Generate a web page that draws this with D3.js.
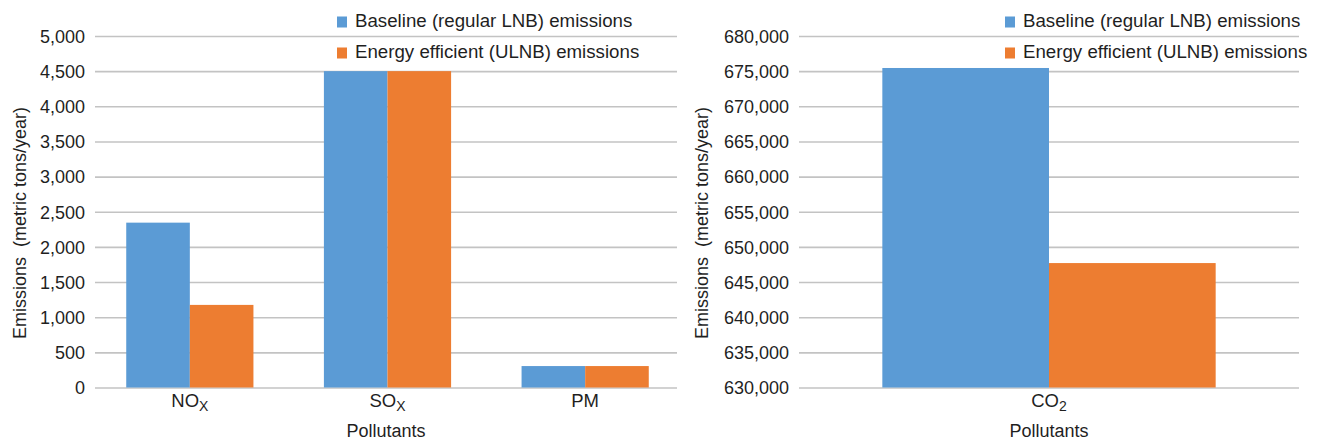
<!DOCTYPE html>
<html>
<head>
<meta charset="utf-8">
<script src="https://cdn.jsdelivr.net/npm/d3@7"></script>
<style>
  body { margin: 0; background: #fff; }
  svg { display: block; font-family: "Liberation Sans", Arial, sans-serif; }
</style>
</head>
<body>
<svg id="chart" width="1320" height="443"></svg>
<script>
// series names and colours
var seriesNames = ["Baseline (regular LNB) emissions", "Energy efficient (ULNB) emissions"];
var seriesColors = ["#5b9bd5", "#ed7d31"];

// left panel: NOx, SOx, PM
var leftCats = ["NO", "SO", "PM"];
var leftSubs = ["X", "X", ""];
var leftBaseline = [2345, 4500, 305];
var leftEfficient = [1175, 4500, 305];
var leftTicks = [0, 500, 1000, 1500, 2000, 2500, 3000, 3500, 4000, 4500, 5000];

// right panel: CO2
var rightCats = ["CO"];
var rightSubs = ["2"];
var rightBaseline = [675450];
var rightEfficient = [647700];
var rightTicks = [630000, 635000, 640000, 645000, 650000, 655000, 660000, 665000, 670000, 675000, 680000];

var svg = d3.select("#chart");
var textColor = "#1f1f1f";

function drawPanel(p) {
  var g = svg.append("g");

  var y = d3.scaleLinear()
    .domain([p.ticks[0], p.ticks[p.ticks.length - 1]])
    .range([387.5, 36]);

  var x0 = d3.scaleBand().domain(p.cats).range(p.bandRange);
  var x1 = d3.scaleBand().domain([0, 1]).range([0, x0.bandwidth()]).paddingOuter(p.outer);

  // gridlines + tick labels
  var axis = g.append("g")
    .attr("transform", "translate(" + p.gridLeft + ",0)")
    .call(d3.axisLeft(y)
      .tickValues(p.ticks)
      .tickSize(-(p.gridRight - p.gridLeft))
      .tickPadding(10)
      .tickFormat(d3.format(",")));
  axis.select(".domain").remove();
  axis.selectAll(".tick line").attr("stroke", "#c3c3c3").attr("stroke-width", 1.6);
  axis.selectAll(".tick text")
    .attr("fill", textColor)
    .style("font-size", "18px")
    .attr("dy", "0.35em");

  // bars
  var rows = p.cats.map(function(c, i) {
    return { cat: c, vals: [p.base[i], p.eff[i]] };
  });
  var groups = g.selectAll(".grp").data(rows).enter().append("g")
    .attr("transform", function(d) { return "translate(" + x0(d.cat) + ",0)"; });
  groups.selectAll("rect").data(function(d) { return d.vals; }).enter().append("rect")
    .attr("x", function(d, i) { return x1(i); })
    .attr("width", x1.bandwidth())
    .attr("y", function(d) { return y(d); })
    .attr("height", function(d) { return y(p.ticks[0]) - y(d); })
    .attr("fill", function(d, i) { return seriesColors[i]; });

  // category labels with subscripts
  var lab = g.selectAll(".cat").data(p.cats).enter().append("text")
    .attr("x", function(d) { return x0(d) + x0.bandwidth() / 2; })
    .attr("y", 407)
    .attr("text-anchor", "middle")
    .attr("fill", textColor)
    .style("font-size", "18.5px");
  lab.append("tspan").text(function(d) { return d; });
  lab.append("tspan")
    .attr("dy", 4)
    .style("font-size", "14px")
    .text(function(d, i) { return p.subs[i]; });

  // axis titles
  g.append("text")
    .attr("x", (p.gridLeft + p.gridRight) / 2)
    .attr("y", 437)
    .attr("text-anchor", "middle")
    .attr("fill", textColor)
    .style("font-size", "18px")
    .text("Pollutants");

  g.append("text")
    .attr("transform", "translate(" + p.titleX + ",223) rotate(-90)")
    .attr("text-anchor", "middle")
    .attr("dy", "0.35em")
    .attr("fill", textColor)
    .style("font-size", "18px")
    .style("white-space", "pre")
    .text("Emissions  (metric tons/year)");

  // legend
  var leg = g.selectAll(".leg").data(seriesNames).enter().append("g")
    .attr("transform", function(d, i) { return "translate(" + p.legendX + "," + (26.5 + i * 31) + ")"; });
  leg.append("rect")
    .attr("x", 0).attr("y", -10)
    .attr("width", 10).attr("height", 11)
    .attr("fill", function(d, i) { return seriesColors[i]; });
  leg.append("text")
    .attr("x", 18).attr("y", 0)
    .attr("fill", textColor)
    .style("font-size", "18.7px")
    .text(function(d) { return d; });
}

drawPanel({
  cats: leftCats, subs: leftSubs, base: leftBaseline, eff: leftEfficient, ticks: leftTicks,
  gridLeft: 95, gridRight: 677, bandRange: [91, 684], outer: 0.554,
  titleX: 20, legendX: 337
});

drawPanel({
  cats: rightCats, subs: rightSubs, base: rightBaseline, eff: rightEfficient, ticks: rightTicks,
  gridLeft: 799, gridRight: 1299, bandRange: [799, 1299], outer: 0.5,
  titleX: 702, legendX: 1005
});
</script>
</body>
</html>
